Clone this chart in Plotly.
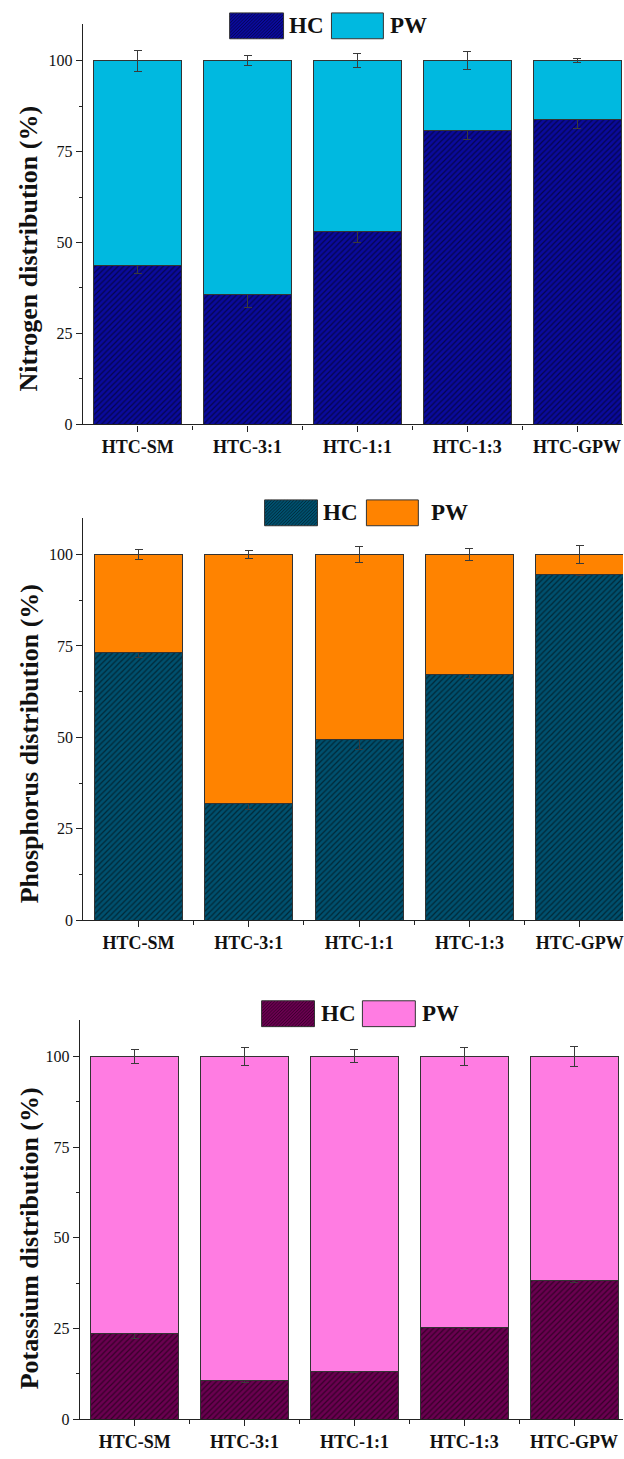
import numpy as np
import plotly.graph_objects as go

W, H = 624, 1459

categories = ["HTC-SM", "HTC-3:1", "HTC-1:1", "HTC-1:3", "HTC-GPW"]

# Nitrogen
n_hc = [43.8, 35.8, 52.9, 80.8, 83.7]
n_hc_err = [2.2, 3.6, 3.0, 2.5, 2.3]
n_pw_err = [2.9, 1.4, 2.0, 2.5, 0.6]
# Phosphorus
p_hc = [73.3, 32.0, 49.4, 67.2, 94.6]
p_hc_err = [1.5, 1.7, 2.6, 1.0, 0.4]
p_pw_err = [1.45, 1.1, 2.3, 1.7, 2.5]
# Potassium
k_hc = [23.5, 10.6, 13.2, 25.3, 38.1]
k_hc_err = [1.2, 0.4, 0.3, 0.5, 0.4]
k_pw_err = [1.9, 2.6, 1.8, 2.6, 2.8]

titles = ["Nitrogen distribution (%)", "Phosphorus distribution (%)", "Potassium distribution (%)"]
hc_colors = ["#0a0a9c", "#00506e", "#6a0050"]
pw_colors = ["#00b9e0", "#ff8300", "#ff7ce2"]

panels = [
    dict(hc=n_hc, hce=n_hc_err, pwe=n_pw_err, x0=83, xend=4.418, ybot=427, ppu=3.66,
         leg=dict(hc=(230, 284), pw=(332, 384), y=(13, 39), hct=307, pwt=409), tcy=250),
    dict(hc=p_hc, hce=p_hc_err, pwe=p_pw_err, x0=83.5, xend=4.392, ybot=926, ppu=3.68,
         leg=dict(hc=(265, 318), pw=(367, 419), y=(503, 529), hct=341, pwt=450), tcy=748),
    dict(hc=k_hc, hce=k_hc_err, pwe=k_pw_err, x0=80, xend=4.445, ybot=1428, ppu=3.65,
         leg=dict(hc=(262, 315), pw=(363, 416), y=(1007, 1033), hct=339, pwt=441), tcy=1246),
]

FONT = "Liberation Serif"
xpos = np.arange(len(categories))

fig = go.Figure()
shapes = []
annotations = []


def px2paper(x, y):
    return x / W, 1 - y / H


def hatch_path(x0, x1, y0, y1, step=3.2):
    # y0 top, y1 bottom in pixels; '/' lines
    w = x1 - x0
    h = y1 - y0
    segs = []
    c = -h
    while c < w:
        t0 = max(0, -c)
        t1 = min(h, w - c)
        if t1 > t0:
            ax, ay = x0 + c + t0, y1 - t0
            bx, by = x0 + c + t1, y1 - t1
            pa = px2paper(ax, ay)
            pb = px2paper(bx, by)
            segs.append(f"M{pa[0]:.5f},{pa[1]:.5f} L{pb[0]:.5f},{pb[1]:.5f}")
        c += step
    return " ".join(segs)


for i, p in enumerate(panels):
    k = "" if i == 0 else str(i + 1)
    xa = "x" + k
    ya = "y" + k
    pw = [100 - v for v in p["hc"]]
    fig.add_trace(go.Bar(
        x=xpos, y=p["hc"], xaxis=xa, yaxis=ya, width=0.8, name="HC", showlegend=False,
        marker=dict(color=hc_colors[i], line=dict(color="#333333", width=1),
                    pattern=dict(shape="/", size=4, solidity=0.3, fgcolor="#000000",
                                 fillmode="overlay")),
        error_y=dict(type="data", array=p["hce"], color="#3a3a3a", thickness=1, width=4),
    ))
    fig.add_trace(go.Bar(
        x=xpos, y=pw, xaxis=xa, yaxis=ya, width=0.8, name="PW", showlegend=False,
        marker=dict(color=pw_colors[i], line=dict(color="#333333", width=1)),
        error_y=dict(type="data", array=p["pwe"], color="#3a3a3a", thickness=1, width=4),
    ))

    ytop = p["ybot"] - 110 * p["ppu"]
    xdom = [p["x0"] / W, 1]
    ydom = [1 - p["ybot"] / H, 1 - ytop / H]
    fig.update_layout(**{
        ("xaxis" + k): dict(
            domain=xdom, anchor=ya, range=[-0.5, p["xend"]],
            tickvals=list(xpos), ticktext=categories,
            tickfont=dict(family=FONT, size=18, color="#111", weight="bold"),
            ticklabeloverflow="allow",
            ticks="outside", ticklen=6, tickwidth=1.2, tickcolor="#222",
            minor=dict(tickvals=list(xpos + 0.5), ticks="outside", ticklen=4,
                       tickwidth=1.2, tickcolor="#222"),
            showline=True, linecolor="#222", linewidth=1.3, showgrid=False, zeroline=False,
            fixedrange=True,
        ),
        ("yaxis" + k): dict(
            domain=ydom, anchor=xa, range=[0, 110],
            tickvals=[0, 25, 50, 75, 100],
            tickfont=dict(family=FONT, size=16, color="#111"),
            ticks="outside", ticklen=6, tickwidth=1.2, tickcolor="#222",
            minor=dict(tickvals=[12.5, 37.5, 62.5, 87.5], ticks="outside", ticklen=3,
                       tickwidth=1.2, tickcolor="#222"),
            showline=True, linecolor="#222", linewidth=1.3, showgrid=False, zeroline=False,
            fixedrange=True,
        ),
    })

    # axis title
    tx, ty = px2paper(29, p["tcy"])
    annotations.append(dict(x=tx, y=ty, xref="paper", yref="paper", text="<b>" + titles[i] + "</b>",
                            textangle=-90, showarrow=False, xanchor="center", yanchor="middle",
                            font=dict(family=FONT, size=26, color="#111")))

    # legend
    L = p["leg"]
    ya0, ya1 = L["y"]
    for key, col, hatch, label, tx_ in [("hc", hc_colors[i], True, "HC", L["hct"]),
                                        ("pw", pw_colors[i], False, "PW", L["pwt"])]:
        sx0, sx1 = L[key]
        a = px2paper(sx0, ya1)
        b = px2paper(sx1, ya0)
        shapes.append(dict(type="rect", xref="paper", yref="paper", x0=a[0], y0=a[1], x1=b[0], y1=b[1],
                           fillcolor=col, line=dict(color="#333333", width=1), layer="above"))
        if hatch:
            shapes.append(dict(type="path", xref="paper", yref="paper",
                               path=hatch_path(sx0 + 0.5, sx1 - 0.5, ya0 + 0.5, ya1 - 0.5),
                               line=dict(color="rgba(0,0,0,0.55)", width=0.8), layer="above"))
        lx, ly = px2paper(tx_, (ya0 + ya1) / 2)
        annotations.append(dict(x=lx, y=ly, xref="paper", yref="paper", text="<b>" + label + "</b>",
                                showarrow=False, xanchor="center", yanchor="middle",
                                font=dict(family=FONT, size=23, color="#111")))

fig.update_layout(
    width=W, height=H, margin=dict(l=0, r=0, t=0, b=0),
    barmode="stack", bargap=0.2,
    paper_bgcolor="white", plot_bgcolor="white",
    showlegend=False, shapes=shapes, annotations=annotations,
)

fig.write_html("out.html", config={"displayModeBar": False},
               post_script="document.body.style.margin='0';document.body.style.overflow='hidden';")
